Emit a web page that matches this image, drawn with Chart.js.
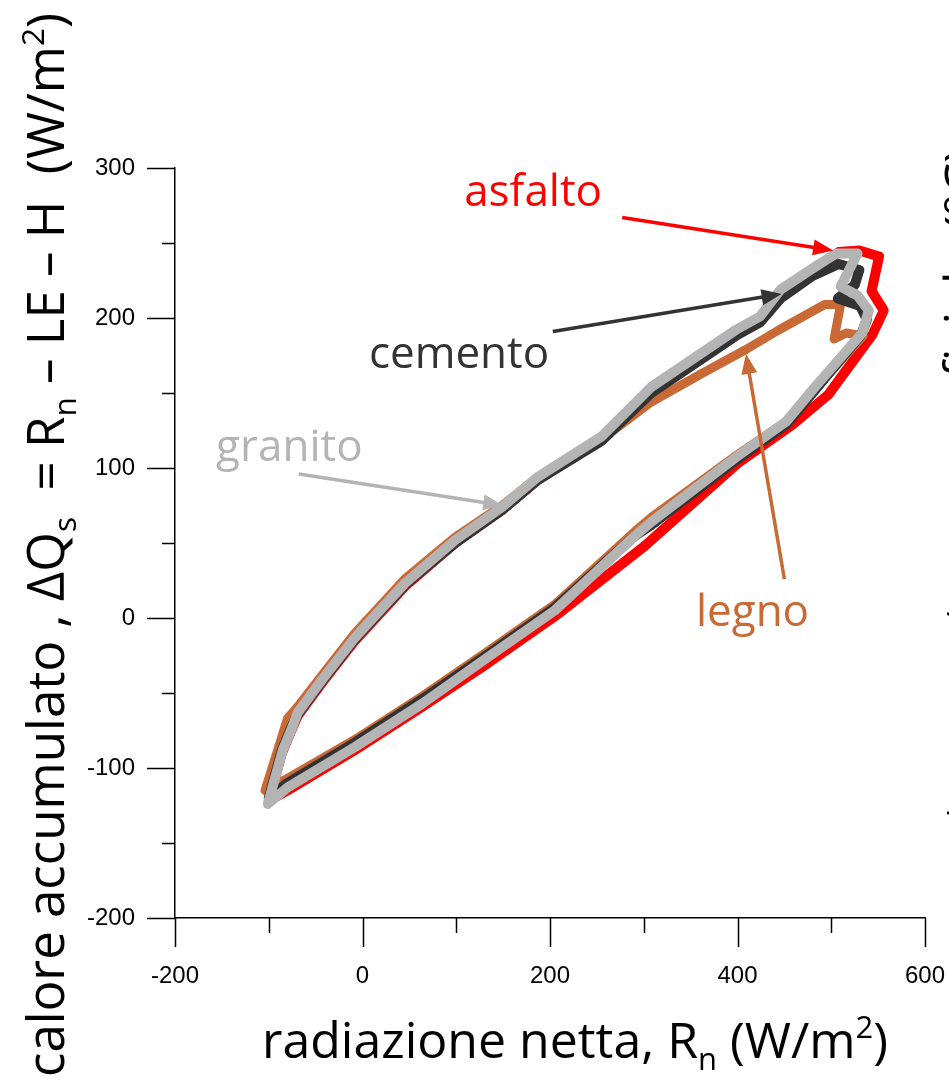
<!DOCTYPE html>
<html>
<head>
<meta charset="utf-8">
<script src="https://cdn.jsdelivr.net/npm/chart.js@4/dist/chart.umd.min.js"></script>
<style>
  html, body { margin: 0; padding: 0; background: #fff; }
  #c { display: block; }
</style>
</head>
<body>
<canvas id="c" width="949" height="1092"></canvas>
<script>
/* ===== data (W/m2) ===== */
const granitoX = [-101, -85, -79, -75, -69, -43, -8, 45, 99, 149, 187, 255, 308, 398, 424, 446, 480, 505, 528, 510, 528, 540, 533, 484, 452, 398, 308, 291, 205, 134, 64, -8, -80, -101];
const granitoY = [-124, -88, -79, -73, -63, -41, -13, 23, 52, 74, 94, 121, 154, 192, 201, 219, 233, 243, 243, 221, 215, 205, 190, 155, 131, 107, 64, 55, 5, -26, -57, -86, -113, -124];

const cementoX = [-100, -86, -76, -69, -43, -8, 45, 99, 149, 187, 255, 308, 398, 424, 446, 480, 508, 530, 525, 507, 531, 538, 532, 484, 452, 398, 308, 291, 205, 134, 64, -8, -80, -100];
const cementoY = [-120, -88, -73, -64, -42, -14, 22, 50, 72, 92, 118, 150, 188, 197, 213, 228, 236, 232, 222, 213, 208, 199, 189, 153, 129, 105, 62, 55, 7, -24, -54, -83, -110, -120];

const asfaltoX = [-100, -86, -76, -69, -43, -8, 45, 99, 149, 187, 255, 308, 398, 424, 446, 480, 508, 530, 551, 543, 556, 544, 497, 459, 400, 301, 205, 134, 64, -8, -80, -100];
const asfaltoY = [-122, -90, -75, -65, -43, -15, 21, 50, 72, 92, 119, 152, 190, 199, 216, 231, 244, 245, 241, 218, 205, 189, 149, 129, 103, 48, 1, -30, -59, -88, -115, -122];

const legnoX = [-104, -93, -80, -69, -43, -8, 45, 99, 149, 187, 255, 308, 362, 409, 444, 493, 510, 503, 516, 534, 486, 452, 398, 308, 291, 205, 134, 64, -8, -80, -90, -104];
const legnoY = [-115, -93, -67, -59, -38, -10, 26, 54, 75, 94, 119, 144, 163, 179, 192, 209, 209, 186, 190, 188, 155, 131, 108, 67, 58, 9, -22, -52, -81, -107, -110, -115];

const xTickValues = [-200, 0, 200, 400, 600];
const yTickValues = [-200, -100, 0, 100, 200, 300];

/* ===== stile ===== */
const RED = '#ff0000';
const DARK = '#333333';
const GRAY = '#b4b4b4';
const ORANGE = '#c96a36';
const TITLE_FONT = '"Open Sans", "Noto Sans", sans-serif';
const TICK_FONT = '"Liberation Sans", Arial, sans-serif';

// etichette con freccia (coordinate nei dati)
const labels = [
  { text: 'asfalto', color: RED,    at: [182, 283], from: [277, 267], to: [502, 245] },
  { text: 'cemento', color: DARK,   at: [103, 175], from: [203, 191], to: [447, 216] },
  { text: 'granito', color: GRAY,   at: [-78, 113], from: [-68, 96],  to: [150, 75] },
  { text: 'legno',   color: ORANGE, at: [416, 3],   from: [450, 26],  to: [409, 176] }
];

const pts = (xs, ys) => xs.map((x, i) => ({ x, y: ys[i] }));

function series(label, xs, ys, color, order, width) {
  return {
    label,
    data: pts(xs, ys),
    showLine: true,
    borderColor: color,
    backgroundColor: color,
    borderWidth: width,
    borderJoinStyle: 'round',
    borderCapStyle: 'round',
    pointRadius: 0,
    tension: 0,
    order
  };
}

/* ===== testo con pedici / apici ===== */
function richWidth(ctx, parts, size) {
  let w = 0;
  for (const [t, k] of parts) {
    ctx.font = `${k ? size * 0.62 : size}px ${TITLE_FONT}`;
    w += ctx.measureText(t).width;
  }
  return w;
}
function drawRich(ctx, parts, size, x0, y0) {
  let x = x0;
  for (const [t, k] of parts) {
    const s = k ? size * 0.62 : size;
    ctx.font = `${s}px ${TITLE_FONT}`;
    const dy = k === 1 ? size * 0.24 : (k === 2 ? -size * 0.40 : 0);
    ctx.fillText(t, x, y0 + dy);
    x += ctx.measureText(t).width;
  }
}

const xTitle = [['radiazione netta, R', 0], ['n', 1], [' (W/m', 0], ['2', 2], [')', 0]];
const yTitle = [['calore accumulato , ΔQ', 0], ['s', 1], ['  = R', 0], ['n', 1], [' – LE – H  (W/m', 0], ['2', 2], [')', 0]];

/* ===== plugin: tacche, titoli, etichette ===== */
const decorPlugin = {
  id: 'decor',
  afterDraw(chart) {
    const { ctx, chartArea: a } = chart;
    const sx = chart.scales.x, sy = chart.scales.y;
    ctx.save();
    ctx.strokeStyle = '#000';
    ctx.lineWidth = 1.5;
    ctx.beginPath();
    for (let v = -200; v <= 300; v += 50) {
      const p = Math.round(sy.getPixelForValue(v)) + 0.5;
      const len = v % 100 === 0 ? 28 : 13;
      ctx.moveTo(a.left - len, p); ctx.lineTo(a.left, p);
    }
    for (let v = -200; v <= 600; v += 100) {
      const p = Math.round(sx.getPixelForValue(v)) + 0.5;
      const len = v % 200 === 0 ? 29 : 15;
      ctx.moveTo(p, a.bottom); ctx.lineTo(p, a.bottom + len);
    }
    ctx.stroke();

    // titoli assi
    ctx.fillStyle = '#000';
    ctx.textBaseline = 'alphabetic';
    ctx.textAlign = 'left';
    const ts = 50;
    const wx = richWidth(ctx, xTitle, ts);
    drawRich(ctx, xTitle, ts, 575 - wx / 2, 1058);

    ctx.save();
    ctx.translate(64, 545);
    ctx.rotate(-Math.PI / 2);
    const wy = richWidth(ctx, yTitle, 51);
    drawRich(ctx, yTitle, 51, -wy / 2, 0);
    ctx.restore();

    // titolo del pannello a destra (tagliato dal bordo)
    ctx.save();
    ctx.translate(980, 148);
    ctx.rotate(-Math.PI / 2);
    ctx.textAlign = 'right';
    ctx.font = `${ts}px ${TITLE_FONT}`;
    ctx.fillText('temperatura superficiale (°C)', 0, 0);
    ctx.restore();

    // etichette + frecce
    for (const l of labels) {
      ctx.fillStyle = l.color;
      ctx.strokeStyle = l.color;
      ctx.font = `44px ${TITLE_FONT}`;
      ctx.textAlign = 'center';
      ctx.textBaseline = 'middle';
      ctx.fillText(l.text, sx.getPixelForValue(l.at[0]), sy.getPixelForValue(l.at[1]));

      const x1 = sx.getPixelForValue(l.from[0]), y1 = sy.getPixelForValue(l.from[1]);
      const x2 = sx.getPixelForValue(l.to[0]), y2 = sy.getPixelForValue(l.to[1]);
      const ang = Math.atan2(y2 - y1, x2 - x1);
      const hl = 20, hw = 8;
      ctx.lineWidth = 3.5;
      ctx.beginPath();
      ctx.moveTo(x1, y1);
      ctx.lineTo(x2 - Math.cos(ang) * hl * 0.8, y2 - Math.sin(ang) * hl * 0.8);
      ctx.stroke();
      ctx.beginPath();
      ctx.moveTo(x2, y2);
      ctx.lineTo(x2 - Math.cos(ang) * hl - Math.sin(ang) * hw, y2 - Math.sin(ang) * hl + Math.cos(ang) * hw);
      ctx.lineTo(x2 - Math.cos(ang) * hl + Math.sin(ang) * hw, y2 - Math.sin(ang) * hl - Math.cos(ang) * hw);
      ctx.closePath();
      ctx.fill();
    }
    ctx.restore();
  }
};

/* ===== grafico ===== */
new Chart(document.getElementById('c').getContext('2d'), {
  type: 'scatter',
  data: {
    datasets: [
      series('asfalto', asfaltoX, asfaltoY, RED, 4, 10),
      series('legno', legnoX, legnoY, ORANGE, 3, 9),
      series('cemento', cementoX, cementoY, DARK, 2, 10),
      series('granito', granitoX, granitoY, GRAY, 1, 10)
    ]
  },
  options: {
    responsive: false,
    animation: false,
    layout: { padding: { top: 168, right: 24, left: 0, bottom: 0 } },
    scales: {
      x: {
        type: 'linear', min: -200, max: 600,
        afterBuildTicks: s => { s.ticks = xTickValues.map(v => ({ value: v })); },
        afterFit: s => { s.height = 174; s.paddingLeft = 0; s.paddingRight = 0; },
        grid: { display: false, drawTicks: false },
        border: { display: true, color: '#000', width: 1.5 },
        ticks: { color: '#000', padding: 44, font: { family: TICK_FONT, size: 24 }, maxRotation: 0, autoSkip: false }
      },
      y: {
        type: 'linear', min: -200, max: 300,
        afterBuildTicks: s => { s.ticks = yTickValues.map(v => ({ value: v })); },
        afterFit: s => { s.width = 175; s.paddingTop = 0; s.paddingBottom = 0; },
        grid: { display: false, drawTicks: false },
        border: { display: true, color: '#000', width: 1.5 },
        ticks: { color: '#000', padding: 40, font: { family: TICK_FONT, size: 24 }, autoSkip: false }
      }
    },
    plugins: { legend: { display: false }, tooltip: { enabled: false } }
  },
  plugins: [decorPlugin]
});
</script>
</body>
</html>
